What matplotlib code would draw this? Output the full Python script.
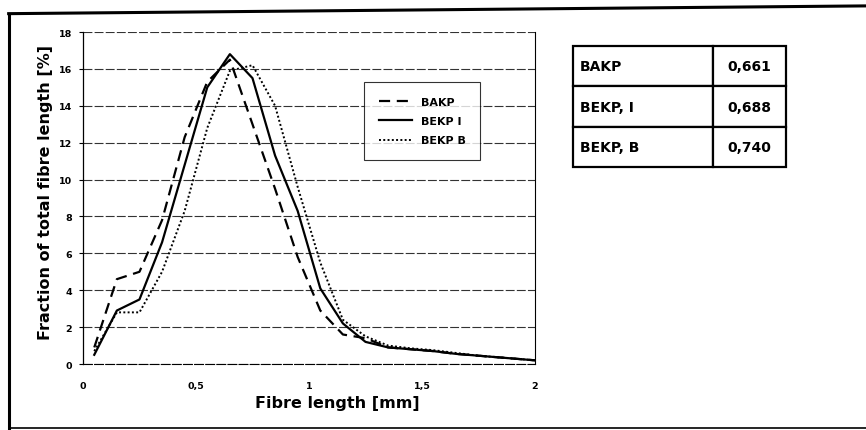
import matplotlib
matplotlib.use('Agg')
import matplotlib.pyplot as plt
from matplotlib.lines import Line2D

# fibre length bin centres [mm]
length = [0.05, 0.15, 0.25, 0.35, 0.45, 0.55, 0.65, 0.75, 0.85, 0.95,
          1.05, 1.15, 1.25, 1.35, 1.45, 1.55, 1.65, 1.75, 1.85, 1.95, 2.0]
bakp = [0.9, 4.6, 5.0, 7.8, 12.3, 15.3, 16.5, 13.0, 9.5, 5.8,
        2.9, 1.6, 1.4, 0.9, 0.8, 0.7, 0.55, 0.45, 0.35, 0.25, 0.2]
bekp_i = [0.5, 2.9, 3.5, 6.6, 10.8, 15.0, 16.8, 15.5, 11.3, 8.3,
          4.1, 2.2, 1.2, 0.9, 0.8, 0.7, 0.55, 0.45, 0.35, 0.25, 0.2]
bekp_b = [0.7, 2.8, 2.8, 5.0, 8.3, 12.8, 15.9, 16.2, 14.0, 9.6,
          5.5, 2.4, 1.5, 1.0, 0.85, 0.75, 0.6, 0.45, 0.35, 0.25, 0.2]

xticks = [0, 0.5, 1, 1.5, 2]
xticklabels = ['0', '0,5', '1', '1,5', '2']
yticks = [0, 2, 4, 6, 8, 10, 12, 14, 16, 18]

table_names = ['BAKP', 'BEKP, I', 'BEKP, B']
table_values = ['0,661', '0,688', '0,740']

plt.rcParams['font.family'] = 'DejaVu Sans'
plt.rcParams['font.weight'] = 'bold'

fig = plt.figure(figsize=(8.66, 4.31), dpi=100)

# outer frame of the scanned page
fig.add_artist(Line2D([0.010, 0.010], [0.005, 0.966], color='black', lw=2.2))
fig.add_artist(Line2D([0.010, 1.0], [0.966, 0.984], color='black', lw=2.2))
fig.add_artist(Line2D([0.010, 1.0], [0.005, 0.005], color='black', lw=1.2))

ax = fig.add_axes([0.0958, 0.1531, 0.522, 0.7703])
ax.plot(length, bakp, color='black', lw=1.6, linestyle=(0, (5, 3)), label='BAKP')
ax.plot(length, bekp_i, color='black', lw=1.6, label='BEKP I')
ax.plot(length, bekp_b, color='black', lw=1.4, linestyle=(0, (1, 1.2)), label='BEKP B')

ax.set_xlim(0, 2)
ax.set_ylim(0, 18)
ax.set_xticks(xticks)
ax.set_xticklabels(xticklabels)
ax.set_yticks(yticks)
ax.tick_params(axis='x', labelsize=6.8, length=0, pad=12)
ax.tick_params(axis='y', labelsize=6.8, length=3, width=0.8, pad=5)
for lab in ax.get_xticklabels() + ax.get_yticklabels():
    lab.set_fontweight('bold')

ax.yaxis.grid(True, color='#333333', lw=0.8, linestyle=(0, (8, 2)))
ax.set_axisbelow(True)
ax.spines['top'].set_visible(False)
ax.spines['bottom'].set_linestyle((0, (8, 2)))
ax.spines['bottom'].set_linewidth(0.8)
ax.spines['right'].set_linestyle((0, (1, 1)))
ax.spines['right'].set_linewidth(0.8)
ax.spines['left'].set_linewidth(0.9)

ax.set_xlabel('Fibre length [mm]', fontsize=11.5, fontweight='bold')
ax.xaxis.set_label_coords(0.563, -0.093)
ax.set_ylabel('Fraction of total fibre length [%]', fontsize=11.5, fontweight='bold')
ax.yaxis.set_label_coords(-0.066, 0.52)

leg = ax.legend(loc='upper left', bbox_to_anchor=(0.622, 0.849), fontsize=8,
                frameon=True, fancybox=False, handlelength=3.0, borderpad=1.3,
                labelspacing=0.85, handletextpad=0.8, borderaxespad=0)
leg.get_frame().set_edgecolor('black')
leg.get_frame().set_linewidth(0.8)
for t in leg.get_texts():
    t.set_fontweight('bold')

# table with the mean values
tax = fig.add_axes([0.6617, 0.610, 0.2459, 0.281])
tax.axis('off')
tbl = tax.table(cellText=[[n, v] for n, v in zip(table_names, table_values)],
                colWidths=[0.657, 0.343], bbox=[0, 0, 1, 1])
tbl.auto_set_font_size(False)
for (r, c), cell in tbl.get_celld().items():
    cell.set_linewidth(1.6)
    cell.set_edgecolor('black')
    cell.get_text().set_fontsize(10)
    cell.get_text().set_fontweight('bold')
    if c == 0:
        cell.get_text().set_horizontalalignment('left')
        cell.PAD = 0.05
    else:
        cell.get_text().set_horizontalalignment('center')

fig.savefig('out.png', dpi=100)
